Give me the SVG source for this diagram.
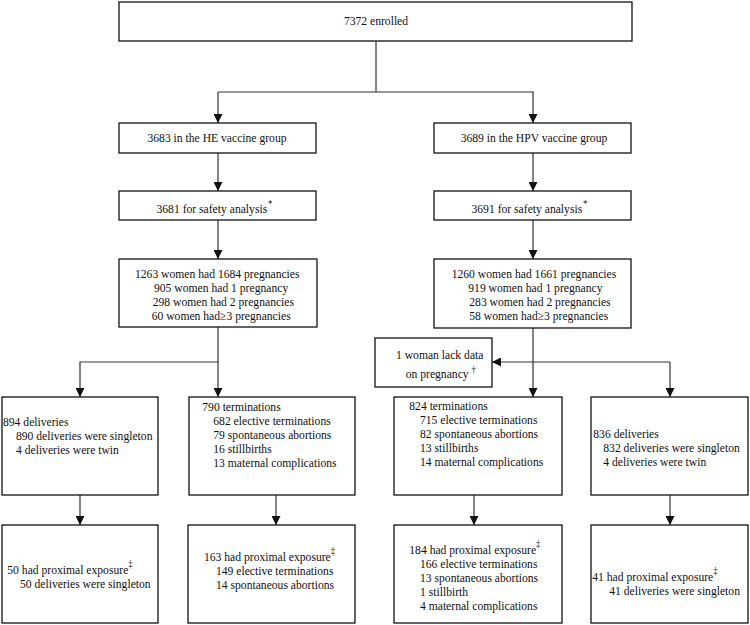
<svg xmlns="http://www.w3.org/2000/svg" width="750" height="625" viewBox="0 0 750 625">
<defs>
<style>
.box{fill:#fff;stroke:#111;stroke-width:1.3}
.ln{fill:none;stroke:#333;stroke-width:1.2}
text{font-family:"Liberation Serif","Times New Roman","DejaVu Serif",serif;font-size:12.5px;fill:#111}
.c{text-anchor:middle}
.sup{font-size:9.5px}
</style>
<marker id="ah" viewBox="0 0 10 10" refX="10" refY="5" markerWidth="9" markerHeight="9" markerUnits="userSpaceOnUse" orient="auto">
<path d="M0,0 L10,5 L0,10 Z" fill="#111"/>
</marker>
</defs>
<rect width="750" height="625" fill="#fff"/>
<g id="connectors">
<path class="ln" d="M376,41 V92 M218,92 H534"/>
<path class="ln" d="M218,92 V123" marker-end="url(#ah)"/>
<path class="ln" d="M533,92 V123" marker-end="url(#ah)"/>
<path class="ln" d="M218,153 V191" marker-end="url(#ah)"/>
<path class="ln" d="M533,153 V191" marker-end="url(#ah)"/>
<path class="ln" d="M218,220 V259" marker-end="url(#ah)"/>
<path class="ln" d="M533,220 V259" marker-end="url(#ah)"/>
<path class="ln" d="M218,327 V362 H80 V397" marker-end="url(#ah)"/>
<path class="ln" d="M218,362 V397" marker-end="url(#ah)"/>
<path class="ln" d="M533,328 V397" marker-end="url(#ah)"/>
<path class="ln" d="M670,362 H492" marker-end="url(#ah)"/>
<path class="ln" d="M670,362 V397" marker-end="url(#ah)"/>
<path class="ln" d="M80,495 V525" marker-end="url(#ah)"/>
<path class="ln" d="M276,495 V525" marker-end="url(#ah)"/>
<path class="ln" d="M474,495 V525" marker-end="url(#ah)"/>
<path class="ln" d="M670,495 V525" marker-end="url(#ah)"/>
</g>
<g id="enrolled">
<rect class="box" x="119" y="2" width="513" height="39"/>
<text class="c" transform="scale(0.93,1)" x="404.3" y="25.5">7372 enrolled</text>
</g>
<g id="he-group">
<rect class="box" x="119" y="123" width="197" height="30"/>
<text class="c" transform="scale(0.93,1)" x="233.33" y="142.5">3683 in the HE vaccine group</text>
</g>
<g id="hpv-group">
<rect class="box" x="434" y="123" width="197" height="30"/>
<text class="c" transform="scale(0.93,1)" x="574.19" y="142.5">3689 in the HPV vaccine group</text>
</g>
<g id="he-safety">
<rect class="box" x="119" y="191" width="197" height="29"/>
<text transform="scale(0.93,1)" x="168.28" y="213.5">3681 for safety analysis<tspan class="sup" dx="1" dy="-6">*</tspan></text>
</g>
<g id="hpv-safety">
<rect class="box" x="434" y="191" width="197" height="29"/>
<text transform="scale(0.93,1)" x="506.99" y="213.5">3691 for safety analysis<tspan class="sup" dx="1" dy="-6">*</tspan></text>
</g>
<g id="he-pregnancies">
<rect class="box" x="119" y="259" width="198" height="68"/>
<g transform="scale(0.93,1)">
<text x="145.16" y="278.5">1263 women had 1684 pregnancies</text>
<text x="165.59" y="292.5">905 women had 1 pregnancy</text>
<text x="164.19" y="306.5">298 women had 2 pregnancies</text>
<text x="163.12" y="320.5">60 women had≥3 pregnancies</text>
</g>
</g>
<g id="hpv-pregnancies">
<rect class="box" x="434" y="259" width="197" height="69"/>
<g transform="scale(0.93,1)">
<text x="485.7" y="278.5">1260 women had 1661 pregnancies</text>
<text x="503.55" y="292.5">919 women had 1 pregnancy</text>
<text x="504.62" y="306.5">283 women had 2 pregnancies</text>
<text x="504.62" y="320.5">58 women had≥3 pregnancies</text>
</g>
</g>
<g id="lack-data">
<rect class="box" x="375" y="338" width="117" height="49"/>
<g transform="scale(0.93,1)">
<text x="425.81" y="359.5">1 woman lack data</text>
<text x="436.24" y="378.5">on pregnancy <tspan class="sup" dy="-5">†</tspan></text>
</g>
</g>
<g id="he-deliveries">
<rect class="box" x="2" y="397" width="156" height="98"/>
<g transform="scale(0.93,1)">
<text x="3.23" y="426">894 deliveries</text>
<text x="17.2" y="440.5">890 deliveries were singleton</text>
<text x="17.2" y="454.5">4 deliveries were twin</text>
</g>
</g>
<g id="he-terminations">
<rect class="box" x="189" y="397" width="166" height="98"/>
<g transform="scale(0.93,1)">
<text x="217.53" y="411">790 terminations</text>
<text x="229.35" y="425">682 elective terminations</text>
<text x="229.35" y="439">79 spontaneous abortions</text>
<text x="229.35" y="453">16 stillbirths</text>
<text x="229.35" y="467">13 maternal complications</text>
</g>
</g>
<g id="hpv-terminations">
<rect class="box" x="394" y="397" width="168" height="98"/>
<g transform="scale(0.93,1)">
<text x="440.11" y="410">824 terminations</text>
<text x="451.61" y="424">715 elective terminations</text>
<text x="451.61" y="438">82 spontaneous abortions</text>
<text x="451.61" y="452">13 stillbirths</text>
<text x="451.61" y="466">14 maternal complications</text>
</g>
</g>
<g id="hpv-deliveries">
<rect class="box" x="591" y="397" width="157" height="98"/>
<g transform="scale(0.93,1)">
<text x="637.96" y="438">836 deliveries</text>
<text x="648.71" y="452">832 deliveries were singleton</text>
<text x="648.71" y="466">4 deliveries were twin</text>
</g>
</g>
<g id="he-deliveries-exposure">
<rect class="box" x="2" y="525" width="156" height="98"/>
<g transform="scale(0.93,1)">
<text x="7.85" y="574.5">50 had proximal exposure<tspan class="sup" dy="-7">‡</tspan></text>
<text x="21.51" y="588.5">50 deliveries were singleton</text>
</g>
</g>
<g id="he-terminations-exposure">
<rect class="box" x="188" y="525" width="167" height="98"/>
<g transform="scale(0.93,1)">
<text x="219.35" y="561">163 had proximal exposure<tspan class="sup" dy="-7">‡</tspan></text>
<text x="232.26" y="575">149 elective terminations</text>
<text x="232.26" y="589">14 spontaneous abortions</text>
</g>
</g>
<g id="hpv-terminations-exposure">
<rect class="box" x="394" y="525" width="168" height="98"/>
<g transform="scale(0.93,1)">
<text x="440.11" y="554">184 had proximal exposure<tspan class="sup" dy="-7">‡</tspan></text>
<text x="451.61" y="568">166 elective terminations</text>
<text x="451.61" y="582">13 spontaneous abortions</text>
<text x="451.61" y="596">1 stillbirth</text>
<text x="451.61" y="610">4 maternal complications</text>
</g>
</g>
<g id="hpv-deliveries-exposure">
<rect class="box" x="591" y="525" width="157" height="98"/>
<g transform="scale(0.93,1)">
<text x="636.88" y="581.5">41 had proximal exposure<tspan class="sup" dy="-7">‡</tspan></text>
<text x="655.16" y="595.5">41 deliveries were singleton</text>
</g>
</g>
</svg>
